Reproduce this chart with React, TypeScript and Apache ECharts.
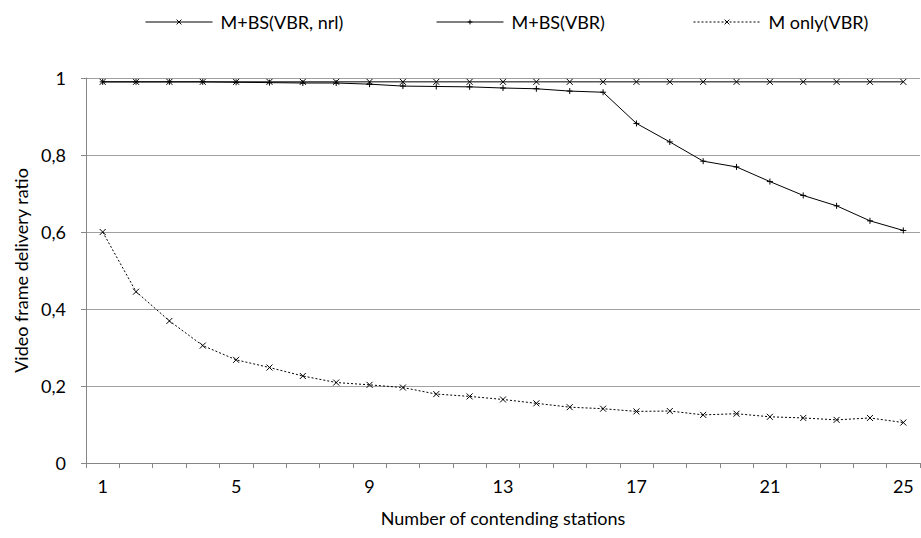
import React, { useEffect, useRef } from "react";
import * as echarts from "echarts";

const categories = ["1","2","3","4","5","6","7","8","9","10","11","12","13","14","15","16","17","18","19","20","21","22","23","24","25"];
const seriesNames = ["M+BS(VBR, nrl)", "M+BS(VBR)", "M only(VBR)"];
const nrlValues = [0.99,0.99,0.99,0.99,0.99,0.99,0.99,0.99,0.99,0.99,0.99,0.99,0.99,0.99,0.99,0.99,0.99,0.99,0.99,0.99,0.99,0.99,0.99,0.99,0.99];
const bsValues = [0.99,0.99,0.99,0.99,0.989,0.988,0.987,0.987,0.984,0.979,0.978,0.977,0.974,0.972,0.966,0.963,0.882,0.834,0.784,0.769,0.731,0.695,0.668,0.629,0.604];
const mOnlyValues = [0.6,0.445,0.369,0.305,0.268,0.248,0.226,0.209,0.203,0.196,0.179,0.173,0.165,0.155,0.145,0.141,0.134,0.135,0.125,0.128,0.12,0.117,0.112,0.117,0.105];

const CROSS = "path://M0,0L10,10M10,0L0,10";
const PLUS = "path://M5,0L5,10M0,5L10,5";
const FONT = "Lato, 'Open Sans', sans-serif";
const legendLefts = [140, 431, 688];
const legendDashes: any[] = ["solid", "solid", [2, 2]];

export default function App() {
  const ref = useRef<HTMLDivElement>(null);
  useEffect(() => {
    if (!ref.current) return;
    const chart = echarts.init(ref.current, null, { renderer: "svg" });
    const mk = (name: string, data: number[], symbol: string, dash: any) => ({
      name,
      type: "line",
      data,
      symbol,
      symbolSize: 6,
      showSymbol: true,
      lineStyle: { color: "#000", width: 1, type: dash },
      itemStyle: { color: "none", borderColor: "#000", borderWidth: 1 },
    });
    chart.setOption({
      animation: false,
      backgroundColor: "#fff",
      textStyle: { fontFamily: FONT },
      legend: seriesNames.map((n, i) => ({
        top: 8,
        left: legendLefts[i],
        itemWidth: 67,
        itemHeight: 6,
        lineStyle: { width: 1, color: "#000", type: legendDashes[i] },
        itemStyle: { color: "none", borderColor: "#000", borderWidth: 1 },
        textStyle: { fontFamily: FONT, fontSize: 18, color: "#000", padding: [0, 0, 0, 3] },
        data: [n],
      })),
      grid: { left: 86, right: 1, top: 78, bottom: 75 },
      xAxis: {
        type: "category",
        data: categories,
        boundaryGap: true,
        name: "Number of contending stations",
        nameLocation: "middle",
        nameGap: 46,
        nameTextStyle: { fontFamily: FONT, fontSize: 18, color: "#000" },
        axisLine: { lineStyle: { color: "#868686", width: 1 } },
        axisTick: { show: true, interval: 0, length: 5, lineStyle: { color: "#868686" } },
        axisLabel: { interval: 3, fontFamily: FONT, fontSize: 18, color: "#000", margin: 14 },
      },
      yAxis: {
        type: "value",
        min: 0,
        max: 1,
        interval: 0.2,
        name: "Video frame delivery ratio",
        nameLocation: "middle",
        nameGap: 56,
        nameTextStyle: { fontFamily: FONT, fontSize: 18, color: "#000" },
        axisLine: { show: true, lineStyle: { color: "#868686", width: 1 } },
        axisTick: { show: true, length: 5, lineStyle: { color: "#868686" } },
        splitLine: { lineStyle: { color: "#a0a0a0", width: 1 } },
        axisLabel: {
          fontFamily: FONT,
          fontSize: 18,
          color: "#000",
          margin: 20,
          formatter: (v: number) => String(Math.round(v * 10) / 10).replace(".", ","),
        },
      },
      series: [
        mk(seriesNames[0], nrlValues, CROSS, "solid"),
        mk(seriesNames[1], bsValues, PLUS, "solid"),
        mk(seriesNames[2], mOnlyValues, CROSS, [2, 2]),
      ],
    });
    return () => chart.dispose();
  }, []);
  return <div ref={ref} style={{ width: 921, height: 538, position: "absolute", left: 0, top: 0 }} />;
}
